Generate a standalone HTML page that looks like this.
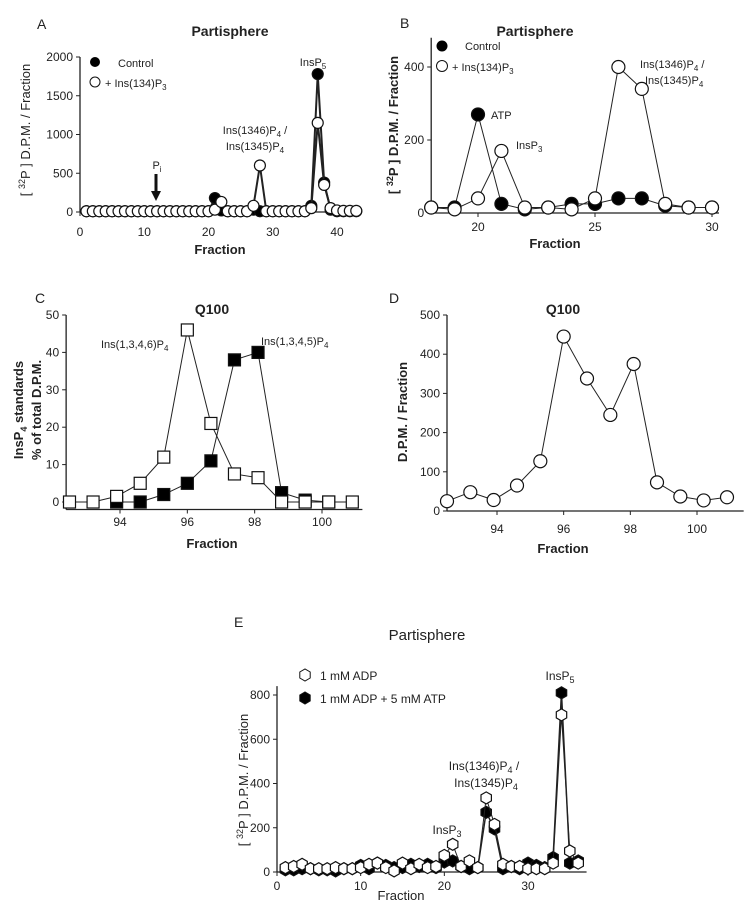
<!DOCTYPE html>
<html><head><meta charset="utf-8"><style>
html,body{margin:0;padding:0;background:#fff;}
svg{display:block;font-family:"Liberation Sans",sans-serif;}
text{fill:#222;}
</style></head><body>
<svg id="fig" width="750" height="915" viewBox="0 0 750 915" xmlns="http://www.w3.org/2000/svg"></svg>
<script>
// Panel A data
const aFractions = [1,2,3,4,5,6,7,8,9,10,11,12,13,14,15,16,17,18,19,20,21,22,23,24,25,26,27,28,29,30,31,32,33,34,35,36,37,38,39,40,41,42,43];
const aControl = [10,10,10,10,10,10,10,10,10,10,10,10,10,10,10,10,10,10,10,10,180,20,10,10,10,10,30,10,10,10,10,10,10,10,10,80,1780,380,30,10,10,10,10];
const aIns134 = [10,10,10,10,10,10,10,10,10,10,10,10,10,10,10,10,10,10,10,10,30,130,10,10,10,10,80,600,10,10,10,10,10,10,10,50,1150,350,50,20,15,15,15];
const aYTicks = [0,500,1000,1500,2000];
const aXTicks = [0,10,20,30,40];
// Panel B data
const bFractions = [18,19,20,21,22,23,24,25,26,27,28,29,30];
const bControl = [15,15,270,25,10,15,25,25,40,40,20,15,15];
const bIns134 = [15,10,40,170,15,15,10,40,400,340,25,15,15];
const bYTicks = [0,200,400];
const bXTicks = [20,25,30];
// Panel C data
const cFractions = [92.5,93.2,93.9,94.6,95.3,96,96.7,97.4,98.1,98.8,99.5,100.2,100.9];
const c1346 = [0,0,1.5,5,12,46,21,7.5,6.5,0,0,0,0];
const c1345 = [null,null,0,0,2,5,11,38,40,2.5,0.5,0,null];
const cYTicks = [0,10,20,30,40,50];
const cXTicks = [94,96,98,100];
// Panel D data
const dFractions = [92.5,93.2,93.9,94.6,95.3,96,96.7,97.4,98.1,98.8,99.5,100.2,100.9];
const dValues = [25,48,28,65,127,445,338,245,375,73,37,27,35];
const dYTicks = [0,100,200,300,400,500];
const dXTicks = [94,96,98,100];
// Panel E data
const eFractions = [1,2,3,4,5,6,7,8,9,10,11,12,13,14,15,16,17,18,19,20,21,22,23,24,25,26,27,28,29,30,31,32,33,34,35,36];
const eADP = [20,25,35,15,15,15,20,15,15,20,35,40,20,5,40,15,35,20,25,75,125,25,50,20,335,215,35,25,25,15,15,15,40,710,95,40];
const eADPATP = [10,10,15,15,10,10,5,15,15,30,15,40,30,20,20,35,25,35,20,45,50,25,15,20,270,195,15,25,15,40,30,20,65,810,40,50];
const eYTicks = [0,200,400,600,800];
const eXTicks = [0,10,20,30];

const NS = "http://www.w3.org/2000/svg";
const fig = document.getElementById('fig');
function el(tag, attrs, parent){
  const e = document.createElementNS(NS, tag);
  for (const k in attrs) e.setAttribute(k, attrs[k]);
  (parent||fig).appendChild(e);
  return e;
}
function txt(x,y,s,size,opts,name,parent){
  const t = el('text',{x:x,y:y,'font-size':size,'text-anchor':(opts&&opts.anchor)||'start','font-weight':(opts&&opts.bold)?'bold':'normal'},parent);
  t.innerHTML = s;
  if (opts&&opts.rot) t.setAttribute('transform','rotate(-90 '+x+' '+y+')');
  
  
  return t;
}
function scale(d0,d1,r0,r1){ return v => r0 + (v-d0)*(r1-r0)/(d1-d0); }

function axes(g, sx, sy, xT, yT, x0, x1, y0, y1, fs, tickY, pname){
  const ya = el('line',{x1:sx(x0),y1:sy(y0),x2:sx(x0),y2:sy(y1),stroke:'#222','stroke-width':1.3},g);
  
  
  const xa = el('line',{x1:sx(x0),y1:sy(y0),x2:sx(x1),y2:sy(y0),stroke:'#222','stroke-width':1.3},g);
  
  
  yT.forEach(v=>{
    el('line',{x1:sx(x0)-4,y1:sy(v),x2:sx(x0),y2:sy(v),stroke:'#222'},g);
    txt(sx(x0)-7, sy(v)+4, String(v), fs, {anchor:'end'}, pname+'-y-tick-label', g);
  });
  xT.forEach(v=>{
    el('line',{x1:sx(v),y1:sy(y0),x2:sx(v),y2:sy(y0)+4,stroke:'#222'},g);
    txt(sx(v), tickY, String(v), fs, {anchor:'middle'}, pname+'-x-tick-label', g);
  });
}
function series(g, sx, sy, xs, ys, marker, fill, r, name, lw){
  const pts = [];
  xs.forEach((x,i)=>{ if (ys[i]!==null) pts.push([sx(x), sy(ys[i])]); });
  const pl = el('polyline',{points:pts.map(p=>p.join(',')).join(' '),fill:'none',stroke:'#222','stroke-width':lw||1},g);
  
  
  pts.forEach(p=>{
    let m;
    if (marker==='circle') m = el('circle',{cx:p[0],cy:p[1],r:r,fill:fill,stroke:'#111','stroke-width':1.2},g);
    else if (marker==='square') m = el('rect',{x:p[0]-r,y:p[1]-r,width:2*r,height:2*r,fill:fill,stroke:'#111','stroke-width':1.2},g);
    else {
      const hp=[]; for(let k=0;k<6;k++){const a=Math.PI/6+k*Math.PI/3; hp.push((p[0]+r*Math.cos(a)).toFixed(1)+','+(p[1]+r*Math.sin(a)).toFixed(1));}
      m = el('polygon',{points:hp.join(' '),fill:fill,stroke:'#111','stroke-width':1.2},g);
    }
    
    
  });
}
function group(name){
  const g = el('g',{});
  
  
  return g;
}

// ---------- Panel A ----------
(function(){
  const g = group('panel-a');
  const sx = scale(0,40,80,337), sy = scale(0,2000,212,57);
  axes(g,sx,sy,aXTicks,aYTicks,0,43.6,0,2000,12,236,'panel-a');
  series(g,sx,sy,aFractions,aControl,'circle','#000',5.5,'panel-a-control',2);
  series(g,sx,sy,aFractions,aIns134,'circle','#fff',5.5,'panel-a-ins134p3',2);
  txt(37,29,'A',14,{},'panel-a-letter',g);
  txt(230,36,'Partisphere',14,{anchor:'middle',bold:true},'panel-a-title',g);
  el('circle',{cx:95,cy:62,r:5,fill:'#000'},g);
  txt(118,67,'Control',11,{},'panel-a-legend-control',g);
  el('circle',{cx:95,cy:82,r:5,fill:'#fff',stroke:'#111'},g);
  txt(105,87,'+ Ins(134)P<tspan font-size="8" dy="3">3</tspan>',11,{},'panel-a-legend-ins134p3',g);
  txt(313,66,'InsP<tspan font-size="8" dy="3">5</tspan>',11,{anchor:'middle'},'panel-a-insp5-label',g);
  txt(255,134,'Ins(1346)P<tspan font-size="8" dy="3">4</tspan><tspan dy="-3"> /</tspan>',11,{anchor:'middle'},'panel-a-insp4-label-1',g);
  txt(255,150,'Ins(1345)P<tspan font-size="8" dy="3">4</tspan>',11,{anchor:'middle'},'panel-a-insp4-label-2',g);
  txt(157,169,'P<tspan font-size="8" dy="3">i</tspan>',11,{anchor:'middle'},'panel-a-pi-label',g);
  el('line',{x1:156,y1:174,x2:156,y2:192,stroke:'#111','stroke-width':3},g);
  el('polygon',{points:'151,191 161,191 156,201',fill:'#111'},g);
  txt(220,254,'Fraction',13,{anchor:'middle',bold:true},'panel-a-x-axis-title',g);
  txt(30,130,'[ <tspan font-size="9" dy="-5">32</tspan><tspan dy="5">P ] D.P.M. / Fraction</tspan>',13,{anchor:'middle',rot:true},'panel-a-y-axis-title',g);
})();

// ---------- Panel B ----------
(function(){
  const g = group('panel-b');
  const sx = scale(20,30,478,712), sy = scale(0,400,213,67);
  axes(g,sx,sy,bXTicks,bYTicks,18,30.3,0,480,12,231,'panel-b');
  series(g,sx,sy,bFractions,bControl,'circle','#000',6.5,'panel-b-control',1);
  series(g,sx,sy,bFractions,bIns134,'circle','#fff',6.5,'panel-b-ins134p3',1);
  txt(400,28,'B',14,{},'panel-b-letter',g);
  txt(535,36,'Partisphere',14,{anchor:'middle',bold:true},'panel-b-title',g);
  el('circle',{cx:442,cy:46,r:5.5,fill:'#000'},g);
  txt(465,50,'Control',11,{},'panel-b-legend-control',g);
  el('circle',{cx:442,cy:66,r:5.5,fill:'#fff',stroke:'#111'},g);
  txt(452,71,'+ Ins(134)P<tspan font-size="8" dy="3">3</tspan>',11,{},'panel-b-legend-ins134p3',g);
  txt(491,119,'ATP',11,{},'panel-b-atp-label',g);
  txt(516,149,'InsP<tspan font-size="8" dy="3">3</tspan>',11,{},'panel-b-insp3-label',g);
  txt(640,68,'Ins(1346)P<tspan font-size="8" dy="3">4</tspan><tspan dy="-3"> /</tspan>',11,{},'panel-b-insp4-label-1',g);
  txt(645,84,'Ins(1345)P<tspan font-size="8" dy="3">4</tspan>',11,{},'panel-b-insp4-label-2',g);
  txt(555,248,'Fraction',13,{anchor:'middle',bold:true},'panel-b-x-axis-title',g);
  txt(398,125,'[ <tspan font-size="9" dy="-5">32</tspan><tspan dy="5">P ] D.P.M. / Fraction</tspan>',13,{anchor:'middle',rot:true,bold:true},'panel-b-y-axis-title',g);
})();

// ---------- Panel C ----------
(function(){
  const g = group('panel-c');
  const sx = scale(94,100,120,322), sy = scale(0,50,502,315);
  axes(g,sx,sy,cXTicks,cYTicks,92.4,101.2,-2,50,12,526,'panel-c');
  series(g,sx,sy,cFractions,c1345,'square','#000',6,'panel-c-ins1345p4',1);
  series(g,sx,sy,cFractions,c1346,'square','#fff',6,'panel-c-ins1346p4',1);
  txt(35,303,'C',14,{},'panel-c-letter',g);
  txt(212,314,'Q100',14,{anchor:'middle',bold:true},'panel-c-title',g);
  txt(101,348,'Ins(1,3,4,6)P<tspan font-size="8" dy="3">4</tspan>',11,{},'panel-c-ins1346-label',g);
  txt(261,345,'Ins(1,3,4,5)P<tspan font-size="8" dy="3">4</tspan>',11,{},'panel-c-ins1345-label',g);
  txt(212,548,'Fraction',13,{anchor:'middle',bold:true},'panel-c-x-axis-title',g);
  txt(23,410,'InsP<tspan font-size="9" dy="4">4</tspan><tspan dy="-4">  standards</tspan>',13,{anchor:'middle',rot:true,bold:true},'panel-c-y-axis-title-1',g);
  txt(41,410,'% of total D.P.M.',13,{anchor:'middle',rot:true,bold:true},'panel-c-y-axis-title-2',g);
})();

// ---------- Panel D ----------
(function(){
  const g = group('panel-d');
  const sx = scale(94,100,497,697), sy = scale(0,500,511,315);
  axes(g,sx,sy,dXTicks,dYTicks,92.5,101.4,0,500,12,533,'panel-d');
  series(g,sx,sy,dFractions,dValues,'circle','#fff',6.5,'panel-d-dpm',1);
  txt(389,303,'D',14,{},'panel-d-letter',g);
  txt(563,314,'Q100',14,{anchor:'middle',bold:true},'panel-d-title',g);
  txt(563,553,'Fraction',13,{anchor:'middle',bold:true},'panel-d-x-axis-title',g);
  txt(407,412,'D.P.M. / Fraction',13,{anchor:'middle',rot:true,bold:true},'panel-d-y-axis-title',g);
})();

// ---------- Panel E ----------
(function(){
  const g = group('panel-e');
  const sx = scale(0,30,277,528), sy = scale(0,800,872,695);
  axes(g,sx,sy,eXTicks,eYTicks,0,37,0,840,12,890,'panel-e');
  series(g,sx,sy,eFractions,eADPATP,'hex','#000',6,'panel-e-adp-atp',1.5);
  series(g,sx,sy,eFractions,eADP,'hex','#fff',6,'panel-e-adp',1);
  txt(234,627,'E',14,{},'panel-e-letter',g);
  txt(427,640,'Partisphere',15,{anchor:'middle'},'panel-e-title',g);
  const h1=[],h2=[]; for(let k=0;k<6;k++){const a=Math.PI/6+k*Math.PI/3; h1.push((305+6*Math.cos(a)).toFixed(1)+','+(675+6*Math.sin(a)).toFixed(1)); h2.push((305+6*Math.cos(a)).toFixed(1)+','+(698+6*Math.sin(a)).toFixed(1));}
  el('polygon',{points:h1.join(' '),fill:'#fff',stroke:'#111'},g);
  el('polygon',{points:h2.join(' '),fill:'#000',stroke:'#111'},g);
  txt(320,680,'1 mM ADP',12,{},'panel-e-legend-adp',g);
  txt(320,703,'1 mM ADP + 5 mM ATP',12,{},'panel-e-legend-adp-atp',g);
  txt(560,680,'InsP<tspan font-size="9" dy="3">5</tspan>',12,{anchor:'middle'},'panel-e-insp5-label',g);
  txt(484,770,'Ins(1346)P<tspan font-size="9" dy="3">4</tspan><tspan dy="-3"> /</tspan>',12,{anchor:'middle'},'panel-e-insp4-label-1',g);
  txt(486,787,'Ins(1345)P<tspan font-size="9" dy="3">4</tspan>',12,{anchor:'middle'},'panel-e-insp4-label-2',g);
  txt(447,834,'InsP<tspan font-size="9" dy="3">3</tspan>',12,{anchor:'middle'},'panel-e-insp3-label',g);
  txt(401,900,'Fraction',13,{anchor:'middle'},'panel-e-x-axis-title',g);
  txt(248,780,'[ <tspan font-size="9" dy="-5">32</tspan><tspan dy="5">P ] D.P.M. / Fraction</tspan>',13,{anchor:'middle',rot:true},'panel-e-y-axis-title',g);
})();
</script>
</body></html>
